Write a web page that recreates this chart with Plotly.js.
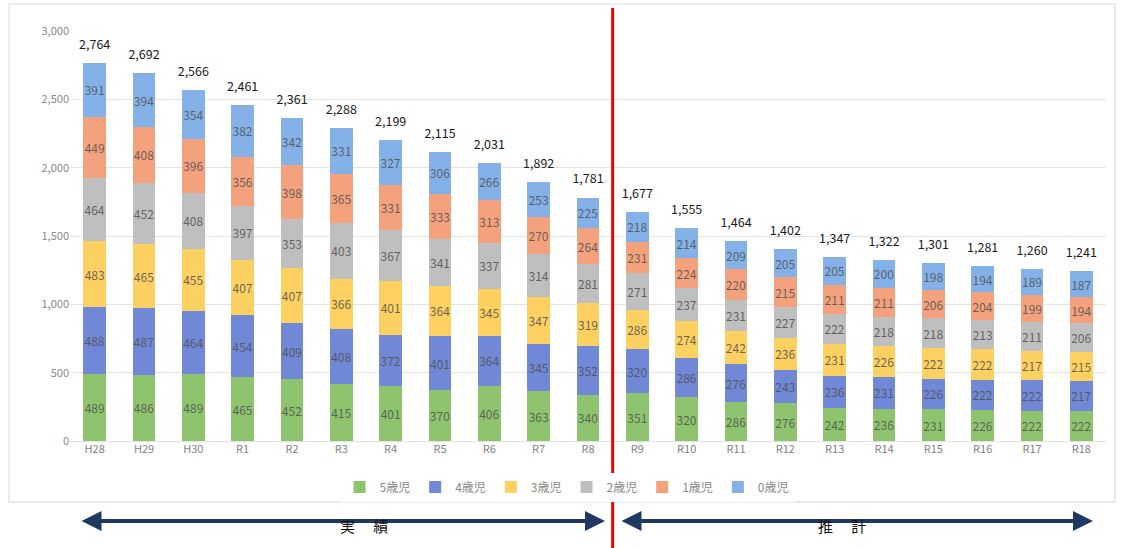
<!DOCTYPE html>
<html>
<head>
<meta charset="utf-8">
<script src="https://cdn.plot.ly/plotly-3.0.1.min.js"></script>
<style>html,body{margin:0;padding:0;background:#fff;}#chart{width:1124px;height:548px;}</style>
</head>
<body>
<div id="chart"></div>
<script>
const categories = ["H28","H29","H30","R1","R2","R3","R4","R5","R6","R7","R8","R9","R10","R11","R12","R13","R14","R15","R16","R17","R18"];
const age5 = [489,486,489,465,452,415,401,370,406,363,340,351,320,286,276,242,236,231,226,222,222];
const age4 = [488,487,464,454,409,408,372,401,364,345,352,320,286,276,243,236,231,226,222,222,217];
const age3 = [483,465,455,407,407,366,401,364,345,347,319,286,274,242,236,231,226,222,222,217,215];
const age2 = [464,452,408,397,353,403,367,341,337,314,281,271,237,231,227,222,218,218,213,211,206];
const age1 = [449,408,396,356,398,365,331,333,313,270,264,231,224,220,215,211,211,206,204,199,194];
const age0 = [391,394,354,382,342,331,327,306,266,253,225,218,214,209,205,205,200,198,194,189,187];
const totals = [2764,2692,2566,2461,2361,2288,2199,2115,2031,1892,1781,1677,1555,1464,1402,1347,1322,1301,1281,1260,1241];
const seriesNames = ["5歳児","4歳児","3歳児","2歳児","1歳児","0歳児"];
const seriesColors = ["#8fc46f","#7088d6","#fdd062","#bfbfbf","#f4a27e","#84b2e8"];
const seriesData = [age5,age4,age3,age2,age1,age0];

const font = '"Noto Sans CJK JP", "Noto Sans", sans-serif';
const traces = seriesData.map((vals, i) => ({
  type: 'bar',
  name: seriesNames[i],
  x: categories,
  y: vals,
  marker: {color: seriesColors[i]},
  text: vals.map(String),
  textposition: 'inside',
  insidetextanchor: 'middle',
  textangle: 0,
  constraintext: 'none',
  textfont: {family: font, size: 12, color: 'rgba(80,80,80,0.85)'},
  hoverinfo: 'x+y+name'
}));
traces.push({
  type: 'scatter',
  mode: 'markers+text',
  x: categories,
  y: totals,
  text: totals.map(v => v.toLocaleString('en-US')),
  textposition: 'top center',
  textfont: {family: font, size: 12.5, color: '#1a1a1a'},
  marker: {size: 16, opacity: 0},
  showlegend: false,
  hoverinfo: 'skip'
});

const px = p => (p - 70) / 1036;
const py = p => (441 - p) / 410;

const layout = {
  width: 1124, height: 548,
  margin: {l: 70, r: 18, t: 31, b: 107},
  paper_bgcolor: '#ffffff', plot_bgcolor: '#ffffff',
  barmode: 'stack',
  bargap: 0.54,
  font: {family: font, color: '#7f7f7f'},
  xaxis: {
    type: 'category',
    range: [-0.5, 20.5],
    tickfont: {family: font, size: 11, color: '#7f7f7f'},
    showline: false, ticks: '', showgrid: false
  },
  yaxis: {
    range: [0, 3000],
    dtick: 500,
    tickformat: ',d',
    tickfont: {family: font, size: 11, color: '#8a8a8a'},
    gridcolor: '#e4e4e4', gridwidth: 1,
    zeroline: true, zerolinecolor: '#e4e4e4', zerolinewidth: 1,
    showline: false, ticks: ''
  },
  legend: {
    orientation: 'h', x: px(567), xanchor: 'center', y: py(487), yanchor: 'middle',
    traceorder: 'normal',
    font: {family: font, size: 12, color: '#8a8a8a'},
    itemwidth: 30
  },
  shapes: [
    {type: 'rect', xref: 'paper', yref: 'paper', x0: px(9), x1: px(1115), y0: py(502), y1: py(4),
     line: {color: '#d9d9d9', width: 1}, fillcolor: 'rgba(0,0,0,0)', layer: 'below'},
    {type: 'line', xref: 'x', yref: 'paper', x0: 10.5, x1: 10.5, y0: py(548), y1: py(8),
     line: {color: '#f00000', width: 3}, layer: 'above'}
  ],
  annotations: [
    {xref: 'paper', yref: 'paper', x: px(605), y: py(521), ax: -525, ay: 0, text: '',
     showarrow: true, arrowhead: 2, arrowside: 'end+start', arrowsize: 1, arrowwidth: 4, arrowcolor: '#1f3864',
     standoff: 0, startstandoff: 0},
    {xref: 'paper', yref: 'paper', x: px(1093), y: py(521), ax: -473, ay: 0, text: '',
     showarrow: true, arrowhead: 2, arrowside: 'end+start', arrowsize: 1, arrowwidth: 4, arrowcolor: '#1f3864',
     standoff: 0, startstandoff: 0},
    {xref: 'paper', yref: 'paper', x: px(338), y: py(538), text: '実　 績', showarrow: false,
     font: {family: font, size: 15, color: '#111'}},
    {xref: 'paper', yref: 'paper', x: px(868), y: py(538), text: '推　 計', showarrow: false,
     font: {family: font, size: 15, color: '#111'}}
  ],
  showlegend: true
};

Plotly.newPlot('chart', traces, layout, {displayModeBar: false, staticPlot: true});
</script>
</body>
</html>
